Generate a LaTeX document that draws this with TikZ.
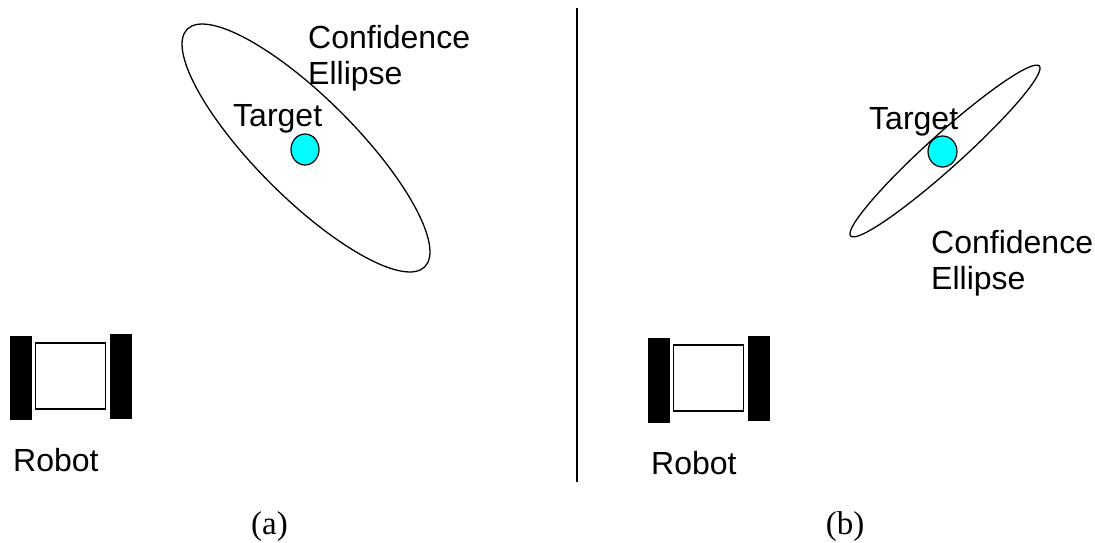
\documentclass[tikz,border=0pt]{standalone}
\usepackage{fontspec}
\setmainfont{Liberation Sans}
\newfontfamily\capfont{Liberation Serif}
\usetikzlibrary{shapes.geometric}
\definecolor{targcol}{RGB}{0,255,255}
\begin{document}
\begin{tikzpicture}[x=1pt,y=-1pt]
    \tikzstyle{conf}=[ellipse, draw, inner sep=0pt, line width=1.3pt]
    \tikzstyle{targ}=[ellipse, draw, fill=targcol, inner sep=0pt, minimum width=28, minimum height=31, line width=1.2pt]
    \tikzstyle{wheel}=[rectangle, fill=black, inner sep=0pt, minimum width=21.5, minimum height=84.5]
    \tikzstyle{body}=[rectangle, draw, inner sep=0pt, line width=1.2pt, minimum width=70, minimum height=66]
    \tikzstyle{lab}=[font=\fontsize{32}{36}\selectfont, inner sep=0pt, align=left]
    \tikzstyle{capt}=[font=\capfont\fontsize{33}{36}\selectfont, inner sep=0pt, anchor=base]
    \useasboundingbox (0,0) rectangle (1095,542);

    % left part
    \node[conf, minimum width=336, minimum height=100, rotate=-45] (ell1) at (306,148) {};
    \node[targ] (tgt1) at (305,149.5) {};
    \node[lab, anchor=base west] (tl1) at (233,126.7) {Target};
    \node[lab, anchor=north west] (cl1) at (308,25.3) {Confidence\\Ellipse};
    \node[wheel] (wl1) at (20.8,378) {};
    \node[wheel] (wr1) at (120.8,376.4) {};
    \node[body] (bd1) at (70.5,376) {};
    \node[lab, anchor=base west] (rb1) at (13,471.7) {Robot};
    \node[capt] (a) at (269.5,534) {(a)};

    % divider
    \coordinate (top) at (577,8);
    \coordinate (bot) at (577,482);
    \draw[line width=1.2pt] (top) -- (bot);

    % right part
    \node[conf, minimum width=254, minimum height=34, rotate=42] (ell2) at (945,151) {};
    \node[targ, minimum width=29] (tgt2) at (942.5,151.5) {};
    \node[lab, anchor=base west] (tl2) at (869,129) {Target};
    \node[lab, anchor=north west] (cl2) at (931,230.3) {Confidence\\Ellipse};
    \node[wheel] (wl2) at (658.8,380.3) {};
    \node[wheel] (wr2) at (758.8,378.3) {};
    \node[body] (bd2) at (708.5,378) {};
    \node[lab, anchor=base west] (rb2) at (651,474) {Robot};
    \node[capt] (b) at (845,534) {(b)};
\end{tikzpicture}
\end{document}
